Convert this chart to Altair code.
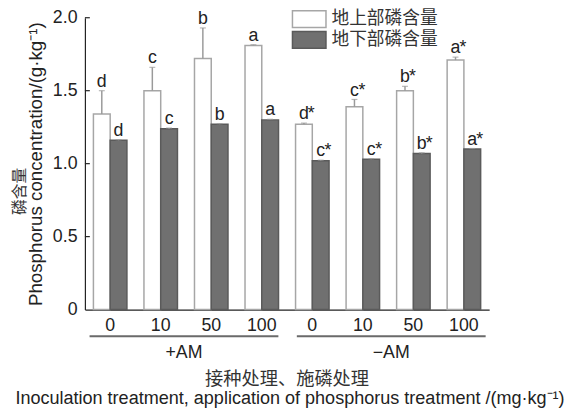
import altair as alt
import pandas as pd

# ---- data ----
doses = ["0", "10", "50", "100"]
groups = ["+AM", "−AM"]
parts = ["地上部磷含量", "地下部磷含量"]
above_vals = [1.34, 1.50, 1.72, 1.81, 1.27, 1.39, 1.50, 1.71]
above_err = [0.16, 0.16, 0.21, 0.005, 0.008, 0.05, 0.03, 0.02]
above_lab = ["d", "c", "b", "a", "d*", "c*", "b*", "a*"]
below_vals = [1.16, 1.24, 1.27, 1.30, 1.02, 1.03, 1.07, 1.10]
below_err = [0.004, 0.004, 0.004, 0.004, 0.004, 0.004, 0.004, 0.004]
below_lab = ["d", "c", "b", "a", "c*", "c*", "b*", "a*"]
y_tick_vals = [0.5, 1.0, 1.5, 2.0]

LATIN = "Liberation Sans"
CJK = "Noto Sans CJK SC"
W, H = 410, 296

conds = [f"{g} {d}" for g in groups for d in doses]
rows = []
for i, c in enumerate(conds):
    for p, vals, errs, labs in [(parts[0], above_vals, above_err, above_lab),
                                (parts[1], below_vals, below_err, below_lab)]:
        lab = labs[i]
        rows.append({
            "cond": c, "part": p, "value": vals[i], "top": vals[i] + errs[i],
            "letter": lab.rstrip("*"), "star": "*" if lab.endswith("*") else "",
        })
df = pd.DataFrame(rows)

x_enc = alt.X(
    "cond:N", sort=conds,
    scale=alt.Scale(paddingInner=0.337, paddingOuter=0.1685),
    axis=alt.Axis(
        title=None, labelExpr="split(datum.label, ' ')[1]", labelAngle=0,
        ticks=False, tickSize=0, labelPadding=7, labelFontSize=18,
        labelFont=LATIN, labelColor="#222", domainColor="#222", domainWidth=1.2,
    ),
)
xo_enc = alt.XOffset("part:N", sort=parts, scale=alt.Scale(paddingInner=0, paddingOuter=0))
y_scale = alt.Scale(domain=[0, 2], nice=False, zero=True)

legend = alt.Legend(
    title=None, orient="none", legendX=218, legendY=-8,
    symbolType="M-2,-1H2V1H-2Z", symbolSize=289, symbolStrokeWidth=1.5,
    labelFont=CJK, labelFontSize=18, labelColor="#333", labelOffset=13,
    rowPadding=-7,
)

bars = alt.Chart(df).mark_bar(strokeWidth=1.5).encode(
    x=x_enc, xOffset=xo_enc,
    y=alt.Y("value:Q", scale=y_scale, axis=alt.Axis(
        values=[0, 0.5, 1.0, 1.5, 2.0],
        labelExpr="datum.value == 0 ? '0' : format(datum.value, '.1f')",
        ticks=False, tickSize=0, grid=False, labelPadding=8, labelFontSize=18,
        labelFont=LATIN, labelColor="#222", domainColor="#222", domainWidth=1.2,
        title="Phosphorus concentration/(g·kg⁻¹)", titleFont=LATIN,
        titleFontSize=19, titleFontWeight="normal", titleColor="#222",
        titleX=-50, titleY=H / 2, titleAngle=270, titleBaseline="middle",
        titleAlign="center",
    )),
    fill=alt.Fill("part:N", sort=parts,
                  scale=alt.Scale(domain=parts, range=["#ffffff", "#707070"]),
                  legend=legend),
    stroke=alt.Stroke("part:N", sort=parts,
                      scale=alt.Scale(domain=parts, range=["#a6a6a6", "#5a5a5a"]),
                      legend=legend),
)

err = alt.Chart(df).mark_rule(color="#9a9a9a", strokeWidth=1.5).encode(
    x=alt.X("cond:N", sort=conds), xOffset=xo_enc,
    y=alt.Y("value:Q", scale=y_scale), y2="top:Q",
)
caps = alt.Chart(df).mark_tick(color="#9a9a9a", size=6, thickness=1.2).encode(
    x=alt.X("cond:N", sort=conds), xOffset=xo_enc,
    y=alt.Y("top:Q", scale=y_scale),
)
letters = alt.Chart(df).mark_text(
    font=LATIN, fontSize=18, color="#222", baseline="alphabetic", dy=-4
).encode(
    x=alt.X("cond:N", sort=conds), xOffset=xo_enc,
    y=alt.Y("top:Q", scale=y_scale), text="letter:N",
)
stars = alt.Chart(df).mark_text(
    font=LATIN, fontSize=18, color="#222", baseline="alphabetic", align="left",
    dx=4, dy=-4
).encode(
    x=alt.X("cond:N", sort=conds), xOffset=xo_enc,
    y=alt.Y("top:Q", scale=y_scale), text="star:N",
)
yticks = alt.Chart(pd.DataFrame({"v": y_tick_vals})).mark_rule(
    color="#222", strokeWidth=1.2
).encode(
    x=alt.value(0), x2=alt.value(5), y=alt.Y("v:Q", scale=y_scale),
)

main = alt.layer(bars, err, caps, letters, stars, yticks)

gdf = pd.DataFrame({"grp": groups})
g_x = alt.X("grp:N", sort=groups,
            scale=alt.Scale(paddingInner=0.089, paddingOuter=0.0197, align=0.57),
            axis=None)
glines = alt.Chart(gdf).mark_rect(color="#6a6a6a").encode(
    x=g_x, y=alt.value(322), y2=alt.value(324),
)
gtext = alt.Chart(gdf).mark_text(
    font=LATIN, fontSize=18, color="#222", baseline="middle"
).encode(x=g_x, y=alt.value(340), text="grp:N")
group_layer = alt.layer(glines, gtext)

title_cn = alt.Chart(pd.DataFrame({"t": ["接种处理、施磷处理"]})).mark_text(
    font=CJK, fontSize=18.5, color="#333", baseline="middle"
).encode(x=alt.value(W / 2), y=alt.value(366), text="t:N")
title_en = alt.Chart(pd.DataFrame({"t": ["Inoculation treatment, application of phosphorus treatment /(mg·kg⁻¹)"]})).mark_text(
    font=LATIN, fontSize=18.3, color="#222", baseline="middle"
).encode(x=alt.value(W / 2 + 3), y=alt.value(387), text="t:N")
ytitle_cn = alt.Chart(pd.DataFrame({"t": ["磷含量"]})).mark_text(
    font=CJK, fontSize=16, color="#333", baseline="middle", angle=270
).encode(x=alt.value(-66), y=alt.value(176), text="t:N")

chart = alt.layer(main, group_layer, title_cn, title_en, ytitle_cn).resolve_scale(
    x="independent"
).properties(
    width=W, height=H,
    autosize=alt.AutoSizeParams(type="none"),
    padding={"left": 78, "top": 7, "right": 83, "bottom": 101},
).configure_view(stroke=None)

chart.save("out.html", embed_options={"renderer": "svg", "actions": False})
